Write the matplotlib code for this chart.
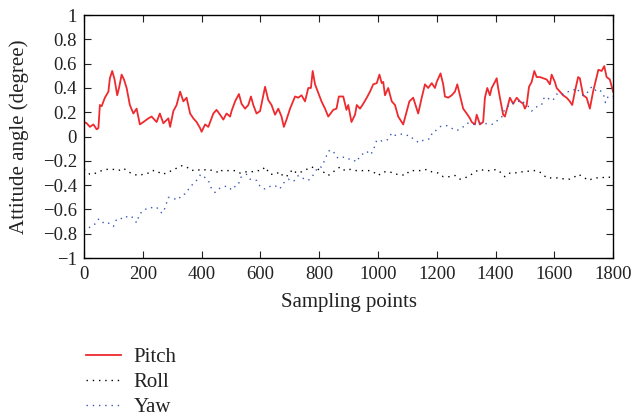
import numpy as np
import matplotlib
matplotlib.use('Agg')
import matplotlib.pyplot as plt
from matplotlib.ticker import FuncFormatter

plt.rcParams['font.family'] = ['Liberation Serif', 'DejaVu Serif']

# values (sample index, angle in degree)
pitch_x = [0, 9, 20, 32, 43, 49, 54, 60, 71, 83, 88, 96, 104, 113, 120, 128, 136, 145, 156, 168,
           179, 190, 202, 219, 230, 247, 258, 270, 287, 293, 304, 315, 327, 338, 349, 361, 372, 383, 395, 400,
           412, 423, 440, 451, 463, 474, 485, 497, 502, 514, 527, 536, 548, 559, 568, 576, 587, 599, 604, 616,
           627, 638, 650, 661, 672, 680, 689, 701, 718, 729, 740, 752, 763, 772, 778, 786, 797, 808, 820, 831,
           848, 859, 867, 882, 893, 899, 910, 922, 928, 939, 950, 962, 973, 984, 996, 1005, 1013, 1018, 1024, 1035,
           1047, 1058, 1069, 1081, 1086, 1098, 1107, 1120, 1132, 1137, 1149, 1160, 1171, 1183, 1194, 1200, 1213, 1222, 1228, 1239,
           1251, 1262, 1270, 1279, 1290, 1302, 1313, 1319, 1330, 1336, 1347, 1358, 1364, 1372, 1381, 1387, 1398, 1404, 1409, 1415,
           1426, 1432, 1438, 1449, 1460, 1472, 1483, 1494, 1500, 1506, 1514, 1523, 1532, 1540, 1551, 1562, 1574, 1585, 1591, 1602,
           1608, 1619, 1630, 1642, 1653, 1661, 1670, 1681, 1687, 1698, 1710, 1721, 1732, 1742, 1750, 1761, 1770, 1778, 1789, 1800]
pitch_y = [0.12, 0.11, 0.08, 0.10, 0.06, 0.07, 0.26, 0.25, 0.32, 0.37, 0.48, 0.54, 0.47, 0.34, 0.41, 0.51, 0.47, 0.40, 0.26, 0.19,
           0.23, 0.10, 0.12, 0.15, 0.165, 0.12, 0.19, 0.11, 0.15, 0.08, 0.21, 0.26, 0.37, 0.29, 0.32, 0.19, 0.15, 0.12, 0.07, 0.04,
           0.10, 0.08, 0.19, 0.22, 0.18, 0.14, 0.19, 0.165, 0.21, 0.29, 0.35, 0.27, 0.23, 0.26, 0.33, 0.26, 0.19, 0.21, 0.27, 0.41,
           0.30, 0.26, 0.18, 0.23, 0.165, 0.08, 0.14, 0.23, 0.33, 0.32, 0.34, 0.29, 0.40, 0.40, 0.54, 0.43, 0.36, 0.29, 0.23, 0.165,
           0.22, 0.23, 0.33, 0.33, 0.22, 0.26, 0.12, 0.18, 0.26, 0.23, 0.27, 0.32, 0.37, 0.43, 0.44, 0.51, 0.44, 0.45, 0.34, 0.40,
           0.29, 0.26, 0.165, 0.12, 0.10, 0.21, 0.29, 0.32, 0.23, 0.19, 0.32, 0.43, 0.40, 0.44, 0.40, 0.45, 0.52, 0.43, 0.33, 0.32,
           0.34, 0.37, 0.43, 0.34, 0.23, 0.19, 0.15, 0.12, 0.10, 0.18, 0.10, 0.12, 0.32, 0.40, 0.34, 0.40, 0.45, 0.48, 0.40, 0.32,
           0.18, 0.165, 0.22, 0.32, 0.27, 0.32, 0.29, 0.27, 0.23, 0.26, 0.41, 0.45, 0.54, 0.49, 0.49, 0.48, 0.47, 0.43, 0.51, 0.45,
           0.40, 0.37, 0.34, 0.32, 0.29, 0.26, 0.37, 0.49, 0.48, 0.34, 0.32, 0.23, 0.37, 0.47, 0.55, 0.54, 0.58, 0.49, 0.47, 0.37]

roll_x = [0, 20, 43, 60, 77, 100, 117, 134, 151, 168, 185, 202, 219, 230, 247, 264, 281, 298, 315, 332,
          349, 366, 383, 400, 417, 440, 463, 468, 491, 514, 531, 548, 570, 587, 604, 616, 633, 650, 667, 678,
          695, 709, 723, 740, 757, 774, 786, 808, 831, 848, 871, 888, 905, 927, 950, 973, 990, 1001, 1018, 1041,
          1058, 1075, 1092, 1109, 1132, 1149, 1166, 1183, 1205, 1222, 1245, 1262, 1279, 1296, 1313, 1330, 1347, 1364, 1381, 1404,
          1415, 1432, 1449, 1466, 1483, 1500, 1523, 1540, 1557, 1574, 1591, 1613, 1636, 1653, 1670, 1681, 1698, 1715, 1727, 1744,
          1761, 1778, 1800]
roll_y = [-0.27, -0.31, -0.30, -0.28, -0.27, -0.27, -0.28, -0.26, -0.29, -0.31, -0.32, -0.31, -0.30, -0.28, -0.28, -0.31, -0.30, -0.28, -0.26, -0.24,
          -0.25, -0.28, -0.27, -0.28, -0.27, -0.28, -0.30, -0.28, -0.28, -0.28, -0.30, -0.29, -0.29, -0.28, -0.28, -0.25, -0.31, -0.31, -0.29, -0.33,
          -0.32, -0.27, -0.30, -0.29, -0.27, -0.25, -0.26, -0.28, -0.32, -0.29, -0.25, -0.28, -0.27, -0.28, -0.28, -0.28, -0.30, -0.32, -0.29, -0.29,
          -0.31, -0.31, -0.32, -0.28, -0.28, -0.28, -0.27, -0.29, -0.30, -0.33, -0.33, -0.32, -0.35, -0.34, -0.32, -0.29, -0.27, -0.28, -0.28, -0.27,
          -0.29, -0.33, -0.30, -0.30, -0.29, -0.29, -0.28, -0.28, -0.30, -0.34, -0.34, -0.34, -0.35, -0.35, -0.33, -0.31, -0.33, -0.36, -0.35, -0.34,
          -0.34, -0.33, -0.34]

yaw_x = [0, 9, 26, 37, 49, 60, 77, 88, 100, 111, 122, 134, 145, 156, 168, 179, 190, 202, 213, 224,
         236, 247, 258, 268, 275, 287, 304, 321, 332, 347, 361, 372, 383, 397, 408, 423, 434, 446, 457, 468,
         480, 491, 502, 514, 525, 531, 542, 553, 565, 576, 587, 599, 610, 621, 633, 644, 655, 667, 672, 684,
         695, 706, 718, 729, 738, 749, 763, 774, 786, 797, 808, 820, 831, 840, 848, 859, 871, 882, 893, 905,
         916, 927, 939, 950, 962, 973, 984, 990, 996, 1007, 1018, 1030, 1035, 1047, 1058, 1069, 1086, 1098, 1109, 1120,
         1132, 1143, 1154, 1166, 1177, 1186, 1197, 1209, 1222, 1234, 1245, 1256, 1268, 1279, 1290, 1302, 1313, 1324, 1336, 1347,
         1358, 1364, 1375, 1387, 1398, 1409, 1421, 1432, 1443, 1455, 1466, 1477, 1489, 1500, 1511, 1523, 1534, 1545, 1557, 1562,
         1574, 1585, 1596, 1608, 1619, 1630, 1642, 1653, 1664, 1676, 1687, 1698, 1710, 1721, 1732, 1744, 1755, 1766, 1774, 1783,
         1800]
yaw_y = [-0.78, -0.77, -0.73, -0.72, -0.68, -0.71, -0.70, -0.72, -0.74, -0.68, -0.67, -0.68, -0.66, -0.65, -0.67, -0.71, -0.63, -0.62, -0.59, -0.59,
         -0.58, -0.58, -0.62, -0.63, -0.59, -0.50, -0.51, -0.52, -0.48, -0.47, -0.41, -0.39, -0.36, -0.31, -0.33, -0.36, -0.43, -0.46, -0.43, -0.42,
         -0.41, -0.41, -0.44, -0.41, -0.40, -0.34, -0.32, -0.31, -0.35, -0.36, -0.36, -0.41, -0.43, -0.43, -0.41, -0.40, -0.41, -0.43, -0.40, -0.37,
         -0.35, -0.37, -0.36, -0.32, -0.33, -0.35, -0.36, -0.34, -0.29, -0.25, -0.25, -0.19, -0.12, -0.11, -0.12, -0.17, -0.18, -0.17, -0.17, -0.19,
         -0.19, -0.21, -0.16, -0.14, -0.12, -0.15, -0.12, -0.07, -0.03, -0.04, -0.03, -0.03, -0.02, 0.03, 0.01, 0.02, 0.02, 0.01, 0.01, -0.02,
         -0.04, -0.05, -0.03, -0.02, -0.02, 0.04, 0.05, 0.08, 0.09, 0.09, 0.08, 0.06, 0.05, 0.06, 0.08, 0.11, 0.11, 0.10, 0.11, 0.11,
         0.11, 0.11, 0.10, 0.10, 0.11, 0.14, 0.16, 0.23, 0.25, 0.26, 0.29, 0.29, 0.30, 0.27, 0.25, 0.21, 0.24, 0.25, 0.26, 0.31,
         0.33, 0.30, 0.30, 0.35, 0.34, 0.35, 0.37, 0.37, 0.38, 0.40, 0.36, 0.34, 0.35, 0.40, 0.41, 0.37, 0.38, 0.36, 0.28, 0.33,
         0.33]

fig = plt.figure(figsize=(6.34, 4.19), dpi=100)
ax = fig.add_axes([0.1325, 0.384, 0.8345, 0.58])

ax.plot(pitch_x, pitch_y, color='#ee2a2e', lw=1.3, label='Pitch')
ax.plot(roll_x, roll_y, color='black', lw=1.0, ls=(0, (1, 3.5)), label='Roll')
ax.plot(yaw_x, yaw_y, color='#3a55b4', lw=1.0, ls=(0, (1, 3.5)), label='Yaw')

ax.set_xlim(0, 1800)
ax.set_ylim(-1, 1)
ax.set_xticks(np.arange(0, 1801, 200))
ax.set_yticks(np.linspace(-1, 1, 11))
ax.yaxis.set_major_formatter(FuncFormatter(lambda v, p: ('%g' % round(v, 1)).replace('-', '\u2212')))
ax.tick_params(direction='in', top=True, right=True, length=5, labelsize=13.5, colors='#222222')
ax.tick_params(axis='x', pad=6)
ax.tick_params(axis='y', pad=5)
for s in ax.spines.values():
    s.set_linewidth(1.0)

ax.set_xlabel('Sampling points', fontsize=15, color='#222222', labelpad=7)
ax.set_ylabel('Attitude angle (degree)', fontsize=15, color='#222222', labelpad=10)

fig.legend(loc='upper left', bbox_to_anchor=(0.135, 0.171), frameon=False, fontsize=15,
           handlelength=1.7, handletextpad=0.6, labelspacing=0.27, borderpad=0, borderaxespad=0,
           labelcolor='#222222')

fig.savefig('out.png', dpi=100)
